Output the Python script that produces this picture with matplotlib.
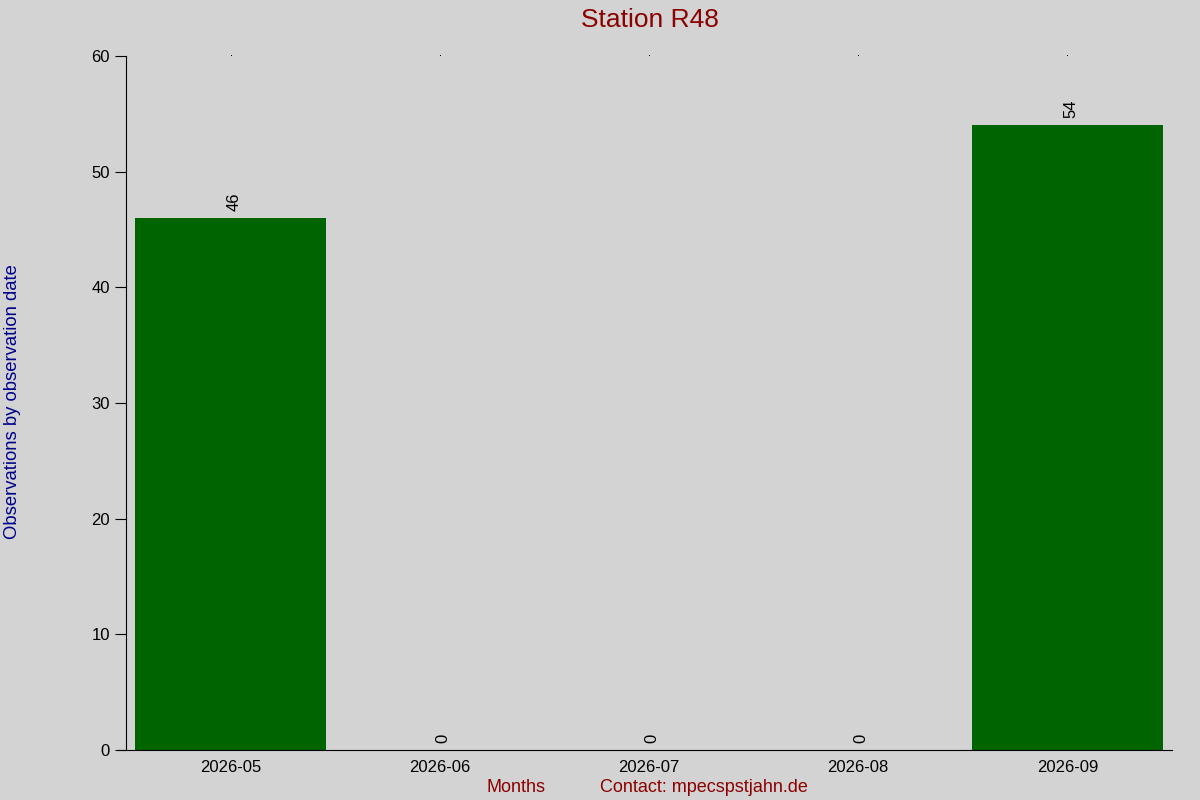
import numpy as np
import matplotlib.pyplot as plt

plt.rcParams['font.family'] = ['Liberation Sans', 'DejaVu Sans']

# -------------------------- DATA --------------------------
months = ['2026-05', '2026-06', '2026-07', '2026-08', '2026-09']
counts = [46, 0, 0, 0, 54]

bg = '#d3d3d3'
bar_color = '#006400'
dark_red = '#8b0000'

# -------------------------- PLOT --------------------------
fig = plt.figure(figsize=(12, 8), dpi=100, facecolor=bg)
ax = fig.add_axes([126 / 1200, 50 / 800, (1172 - 126) / 1200, (750 - 56) / 800])
ax.set_facecolor(bg)

x = np.arange(len(months))
bars = ax.bar(x, counts, width=0.91, color=bar_color)

for xi, v in zip(x, counts):
    ax.text(xi + 0.015, v + 0.6, str(v), rotation=90, ha='center', va='bottom', fontsize=12)

ax.set_xlim(-0.5, len(months) - 0.5)
ax.set_ylim(0, 60)
ax.set_yticks(np.arange(0, 61, 10))
ax.set_xticks(x)
ax.set_xticklabels(months)
ax.tick_params(axis='y', length=8, labelsize=12, direction='out')
ax.tick_params(axis='x', length=0, labelsize=12, pad=7)
# tiny marks at the top
for xi in x:
    ax.plot(xi, 60, marker=',', color='black', clip_on=False)

for s in ['top', 'right']:
    ax.spines[s].set_visible(False)
ax.spines['bottom'].set_bounds(-0.54, len(months) - 0.5)

fig.text(0.5417, 0.9895, 'Station R48', ha='center', va='top', fontsize=19, color=dark_red)
fig.text(0.003, 0.4975, 'Observations by observation date', rotation=90,
         ha='left', va='center', fontsize=13.3, color='#00008b')
fig.text(0.43, 0.005, 'Months', ha='center', va='bottom', fontsize=13, color=dark_red)
fig.text(0.587, 0.005, 'Contact: mpecspstjahn.de', ha='center', va='bottom',
         fontsize=13, color=dark_red)

plt.savefig('out.png', dpi=100, facecolor=bg)
